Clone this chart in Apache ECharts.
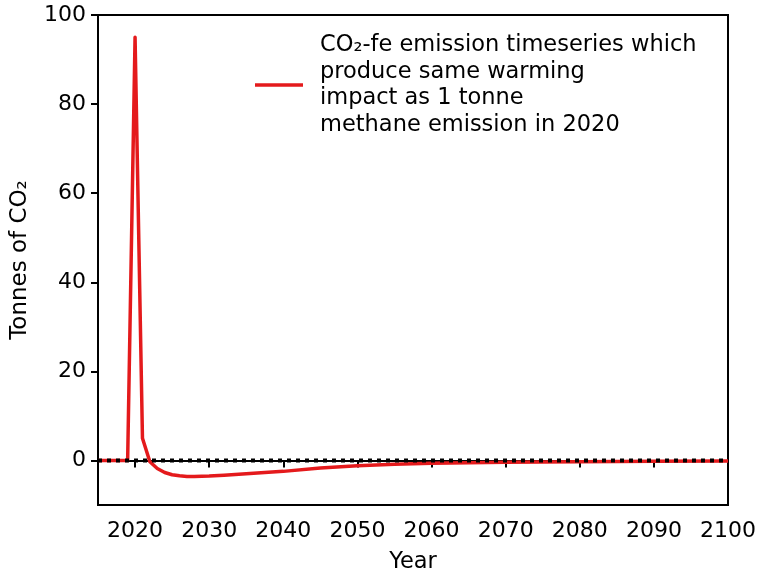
<!DOCTYPE html>
<html>
<head>
<meta charset="utf-8">
<script src="https://cdn.jsdelivr.net/npm/echarts@6/dist/echarts.min.js"></script>
<style>
html,body{margin:0;padding:0;background:#fff;}
#main{width:759px;height:574px;}
</style>
</head>
<body>
<div id="main"></div>
<script>
var years = [2015,2016,2017,2018,2019,2020,2021,2022,2023,2024,2025,2026,2027,2028,2029,2030,2032,2035,2040,2045,2050,2055,2060,2065,2070,2080,2090,2100];
var values = [0,0,0,0,0,95,5,-0.3,-1.8,-2.7,-3.2,-3.45,-3.6,-3.6,-3.55,-3.5,-3.3,-3.0,-2.45,-1.7,-1.2,-0.85,-0.6,-0.5,-0.4,-0.3,-0.2,-0.1];
var zeroLineYears = [2015,2100];
var zeroLineValues = [0,0];
var xTicks = [2020,2030,2040,2050,2060,2070,2080,2090,2100];
var yTicks = [0,20,40,60,80,100];
var seriesName = 'CO\u2082-fe emission timeseries which\nproduce same warming\nimpact as 1 tonne\nmethane emission in 2020';

var FONT = 'DejaVu Sans';
var chart = echarts.init(document.getElementById('main'), null, {renderer:'canvas'});
chart.setOption({
  animation: false,
  backgroundColor: '#fff',
  textStyle: {fontFamily: FONT},
  grid: {left: 98, right: 31, top: 15, bottom: 69, show: true, borderColor: '#000', borderWidth: 2, backgroundColor: 'transparent', outerBoundsMode: 'none', containLabel: false},
  legend: {
    data: [seriesName],
    left: 255, top: 32, padding: 0,
    orient: 'vertical',
    icon: 'rect', itemWidth: 48, itemHeight: 3.5,
    textStyle: {fontFamily: FONT, fontSize: 22.5, color: '#000', lineHeight: 26.5, padding: [0,0,0,12]}
  },
  xAxis: {
    type: 'value', min: 2015, max: 2100,
    name: 'Year', nameLocation: 'middle', nameGap: 46,
    nameTextStyle: {fontFamily: FONT, fontSize: 22.5, color: '#000'},
    axisLine: {show: true, lineStyle: {color: '#000', width: 2}},
    axisTick: {show: true, length: 7, lineStyle: {color: '#000', width: 2}, customValues: xTicks},
    axisLabel: {color: '#000', fontSize: 22, fontFamily: FONT, margin: 15, customValues: xTicks,
      formatter: function(v){ return String(v); }},
    splitLine: {show: false}
  },
  yAxis: {
    type: 'value', min: -10, max: 100,
    name: 'Tonnes of CO\u2082', nameLocation: 'middle', nameGap: 66,
    nameTextStyle: {fontFamily: FONT, fontSize: 23, color: '#000'},
    axisLine: {show: true, lineStyle: {color: '#000', width: 2}},
    axisTick: {show: true, length: 7, lineStyle: {color: '#000', width: 2}, customValues: yTicks},
    axisLabel: {color: '#000', fontSize: 22, fontFamily: FONT, margin: 12, customValues: yTicks,
      formatter: function(v){ return String(v); }},
    splitLine: {show: false}
  },
  series: [
    {
      name: seriesName, type: 'line', showSymbol: false, symbol: 'none',
      data: years.map(function(y,i){return [y, values[i]];}),
      lineStyle: {color: '#e41a1c', width: 3.5, join: 'round'},
      itemStyle: {color: '#e41a1c'},
      z: 2
    },
    {
      name: 'zero', type: 'line', showSymbol: false, symbol: 'none',
      data: zeroLineYears.map(function(y,i){return [y, zeroLineValues[i]];}),
      lineStyle: {color: '#000', width: 4, type: [4, 5], cap: 'butt'},
      z: 3
    }
  ]
});
</script>
</body>
</html>
